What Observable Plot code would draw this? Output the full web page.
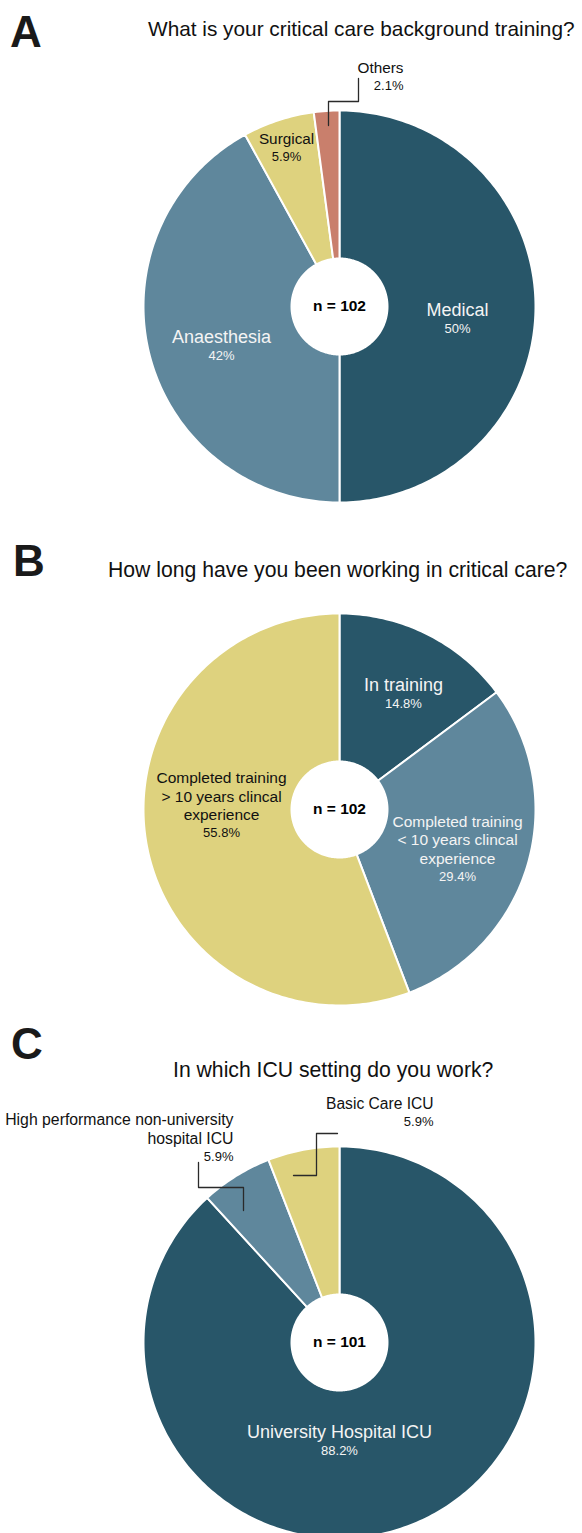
<!DOCTYPE html>
<html><head><meta charset="utf-8">
<script src="https://cdn.jsdelivr.net/npm/d3@7"></script>
<script src="https://cdn.jsdelivr.net/npm/@observablehq/plot@0.6"></script>
<style>
body{margin:0;background:#fff;font-family:"Liberation Sans",Arial,Helvetica,sans-serif;}
#page{position:relative;width:582px;height:1533px;overflow:hidden;background:#fff;}
.abs{position:absolute;line-height:1;white-space:nowrap;}
.letter{font-weight:bold;color:#1a1a1a;}
.title{color:#111;}
svg{position:absolute;left:0;}
</style></head><body><div id="page"></div>
<script>
// ---------- DATA ----------
const panelLetters = ["A", "B", "C"];
const questions = [
  "What is your critical care background training?",
  "How long have you been working in critical care?",
  "In which ICU setting do you work?"
];
const sampleSizes = [102, 102, 101];

const trainingCategories = ["Medical", "Anaesthesia", "Surgical", "Others"];
const trainingValues = [50, 42, 5.9, 2.1];

const experienceCategories = [
  "In training",
  "Completed training\n< 10 years clincal\nexperience",
  "Completed training\n> 10 years clincal\nexperience"
];
const experienceValues = [14.8, 29.4, 55.8];

const settingCategories = [
  "University Hospital ICU",
  "High performance non-university\nhospital ICU",
  "Basic Care ICU"
];
const settingValues = [88.2, 5.9, 5.9];

// ---------- STYLE / LAYOUT ----------
const DARK = "#285669", MID = "#5f879c", YEL = "#ded27e", SAL = "#c97f6c";
const WHITE_T = "#f4f4f4", BLACK_T = "#111";
const FONT = "Liberation Sans, Arial, Helvetica, sans-serif";
const R = 196, HOLE = 48 / 196, CX = 339;

const panels = [
  {cats: trainingCategories, vals: trainingValues, colors: [DARK, MID, YEL, SAL],
   top: 50, height: 470, cy: 256,
   letter: {x: 10, base: 47}, title: {x: 148, base: 37, size: 20.8},
   labels: [
     {r: .602, dx: 0, dy: 9, size: 18, color: WHITE_T, anchor: "middle"},
     {r: .6216, dx: 0, dy: 6, size: 18, color: WHITE_T, anchor: "middle"},
     {r: .866, dx: 0, dy: -1, size: 15.3, color: BLACK_T, anchor: "middle"},
     {r: 0, dx: 64, dy: -234, size: 15.3, color: BLACK_T, anchor: "end",
      leader: [[-11, -181], [-11, -205], [19, -205], [19, -228]]}
   ]},
  {cats: experienceCategories, vals: experienceValues, colors: [DARK, MID, YEL],
   top: 600, height: 420, cy: 209,
   letter: {x: 13, base: 576}, title: {x: 108, base: 577, size: 21.2},
   labels: [
     {r: .728, dx: 0, dy: 9.5, size: 18, color: WHITE_T, anchor: "middle"},
     {r: .627, dx: 0, dy: 20, size: 15.5, color: WHITE_T, anchor: "middle"},
     {r: .612, dx: 0, dy: -11, size: 15.5, color: BLACK_T, anchor: "middle"}
   ]},
  {cats: settingCategories, vals: settingValues, colors: [DARK, MID, YEL],
   top: 1085, height: 448, cy: 257,
   letter: {x: 11, base: 1059}, title: {x: 173, base: 1077, size: 21.2},
   labels: [
     {r: 0, dx: 0, dy: 95, size: 18, color: WHITE_T, anchor: "middle"},
     {r: 0, dx: -106, dy: -199, size: 15.8, color: BLACK_T, anchor: "end",
      leader: [[-96, -132], [-96, -155], [-141, -155], [-141, -180]]},
     {r: 0, dx: 94, dy: -234, size: 15.6, color: BLACK_T, anchor: "end",
      leader: [[-46, -167], [-23, -167], [-23, -209], [-2, -209]]}
   ]}
];

const page = document.getElementById("page");
function addText(cls, txt, x, base, fs) {
  const d = document.createElement("div");
  d.className = "abs " + cls;
  d.textContent = txt;
  d.style.fontSize = fs + "px";
  d.style.left = x + "px";
  d.style.top = (base - 0.8465 * fs) + "px";
  page.appendChild(d);
}

const polar = (a, r) => [r * Math.sin(a), r * Math.cos(a)];

panels.forEach((p, pi) => {
  addText("letter", panelLetters[pi], p.letter.x, p.letter.base, 44);
  addText("title", questions[pi], p.title.x, p.title.base, p.title.size);

  const arcs = d3.pie().sort(null).value(d => d)(p.vals);
  const pts = [];
  arcs.forEach((a, i) => {
    const n = Math.max(2, Math.ceil((a.endAngle - a.startAngle) / (Math.PI / 180)));
    const ring = [];
    for (let k = 0; k <= n; k++) ring.push(polar(a.startAngle + (a.endAngle - a.startAngle) * k / n, 1));
    for (let k = n; k >= 0; k--) ring.push(polar(a.startAngle + (a.endAngle - a.startAngle) * k / n, HOLE));
    ring.push(ring[0]);
    ring.forEach(([x, y]) => pts.push({cat: p.cats[i], x, y}));
  });

  const marks = [
    Plot.line(pts, {x: "x", y: "y", z: "cat", fill: "cat", stroke: "white", strokeWidth: 2, strokeLinejoin: "round", curve: "linear"}),
    Plot.text([{x: 0, y: 0}], {x: "x", y: "y", text: () => "n = " + sampleSizes[pi], fontSize: 15.5, fontWeight: "bold", fill: "#000", lineAnchor: "middle"})
  ];

  p.labels.forEach((L, i) => {
    const a = arcs[i];
    const mid = (a.startAngle + a.endAngle) / 2;
    const [px, py] = polar(mid, L.r);
    const x = px + L.dx / R, y = py - L.dy / R;
    const pct = p.vals[i] + "%";
    marks.push(Plot.text([{x, y}], {x: "x", y: "y", text: () => p.cats[i], fontSize: L.size, fill: L.color, textAnchor: L.anchor, lineAnchor: "bottom", lineHeight: 1.2}));
    marks.push(Plot.text([{x, y}], {x: "x", y: "y", text: () => pct, fontSize: 13, fill: L.color, textAnchor: L.anchor, lineAnchor: "bottom", dy: 17}));
    if (L.leader) {
      marks.push(Plot.line(L.leader.map(([dx, dy]) => ({x: dx / R, y: -dy / R})), {x: "x", y: "y", stroke: "#2a2a2a", strokeWidth: 1.3, curve: "linear"}));
    }
  });

  const svg = Plot.plot({
    width: 582, height: p.height, margin: 0,
    style: {fontFamily: FONT, background: "transparent", overflow: "visible"},
    x: {domain: [-CX / R, (582 - CX) / R], range: [0, 582], axis: null},
    y: {domain: [-(p.height - p.cy) / R, p.cy / R], range: [p.height, 0], axis: null},
    color: {type: "ordinal", domain: p.cats, range: p.colors},
    marks
  });
  svg.style.top = p.top + "px";
  page.appendChild(svg);
});
</script>
</body></html>
